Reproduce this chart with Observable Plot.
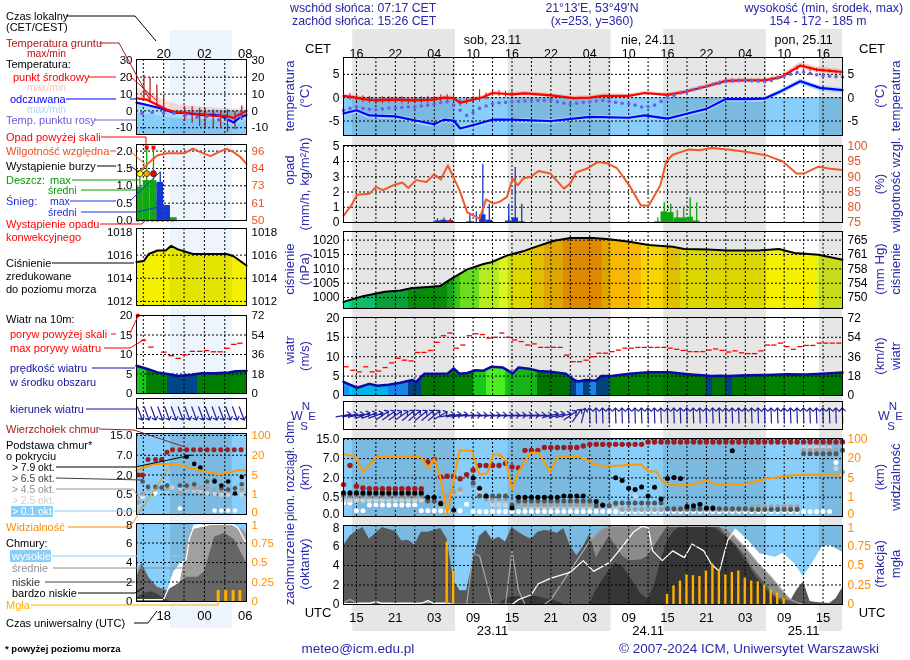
<!DOCTYPE html>
<html><head><meta charset="utf-8">
<script src="https://cdn.jsdelivr.net/npm/d3@7"></script>
<script src="https://cdn.jsdelivr.net/npm/@observablehq/plot@0.6"></script>
<style>
html,body{margin:0;padding:0;background:#fff;}
#root{position:relative;width:910px;height:660px;overflow:hidden;font-family:"Liberation Sans",Arial,sans-serif;}
#root svg{position:absolute;}
</style></head><body><div id="root"></div>
<script>
// ---------------- DATA (hours counted from 00 UTC 22.11) ----------------
const nightStart=[14.43,38.43,62.43,86.43];
const nightEnd=[30.28,54.28,78.28,90];
const gridHours=[15,18,21,24,27,30,33,36,39,42,45,48,51,54,57,60,63,66,69,72,75,78,81,84,87];
const labelHours=[15,21,27,33,39,45,51,57,63,69,75,81,87];
const cetLabels=["16","22","04","10","16","22","04","10","16","22","04","10","16"];
const utcLabels=["15","21","03","09","15","21","03","09","15","21","03","09","15"];
const noonHours=[36,60,84];
const dayTop=["sob, 23.11","nie, 24.11","pon, 25.11"];
const dayBottom=["23.11","24.11","25.11"];

const tempMid=[[13,0.4],[15,0],[16,-0.3],[18,-0.6],[21,-0.4],[23.5,-0.6],[27,-0.4],[28.5,0],[30,-0.1],[31,-1.1],[32.5,-0.6],[34.5,0.1],[36,1.0],[39,0.7],[41,0.9],[45,0.5],[48.5,-0.1],[51,0],[53,0.4],[57,0.4],[59.5,1.0],[63,0.6],[65.5,1.2],[69,2.4],[72,3.6],[74.5,3.7],[78,3.7],[80.5,4.4],[83.5,6.9],[86,6.0],[90,5.5]];
const tempBand=[[13,0,0.8],[15,-0.4,0.4],[18,-1,-0.2],[21,-0.8,0],[24,-1,-0.2],[27,-0.8,0],[28.5,-0.4,0.4],[30,-0.5,0.3],[31,-1.5,-0.7],[32.5,-1.0,-0.2],[34.5,-0.3,0.5],[36,0.6,1.4],[39,0.3,1.1],[41,0.5,1.3],[45,0.1,0.9],[48.5,-0.5,0.3],[51,-0.4,0.4],[53,0,0.8],[57,0,0.8],[59.5,0.6,1.4],[63,0.2,1.0],[65.5,0.8,1.6],[69,2,2.8],[72,3.2,4.0],[74.5,3.3,4.1],[78,3.3,4.1],[80.5,3.9,4.9],[83.5,6.2,7.6],[86,5.4,6.6],[90,5.0,6.0]];
const feelTemp=[[13,-3.4],[15,-2.7],[17,-3.8],[21,-4.0],[24.5,-5.0],[27,-5.7],[28.5,-4.7],[30,-4.9],[31,-6.6],[33.5,-5.7],[34.7,-5.2],[36,-4.7],[39,-4.7],[45,-5.0],[51,-4.1],[57,-4.3],[59.5,-3.8],[63,-4.5],[65.5,-3.6],[69,-2.4],[72,-0.3],[75,-0.3],[78,-0.2],[80.5,1.4],[83.5,3.5],[86.5,2.1],[90,1.6]];
const feelBand=[[13,-4.1,-3.1],[15,-3.4,-2.4],[17,-4.5,-3.5],[21,-4.7,-3.7],[24.5,-5.7,-4.7],[27,-6.4,-5.4],[28.5,-5.4,-4.4],[30,-5.6,-4.6],[31,-7.3,-6.3],[33.5,-6.4,-5.4],[34.7,-5.9,-4.9],[36,-5.4,-4.4],[39,-5.4,-4.4],[45,-5.7,-4.7],[51,-4.8,-3.8],[57,-5.0,-4.0],[59.5,-4.5,-3.5],[63,-5.2,-4.2],[65.5,-4.3,-3.3],[69,-3.1,-2.1],[72,-1.0,0.0],[75,-1.0,0.0],[78,-0.9,0.1],[80.5,0.7,1.7],[83.5,2.8,4.0],[86.5,1.4,2.5],[90,0.9,2.0]];
const dewPoint=[[13,-2.7],[14,-2.3],[15,-2.0],[16,-2.3],[17,-2.5],[18,-2.6],[19,-2.4],[20,-2.2],[21,-2.1],[22,-2.1],[23,-2.0],[24,-2.0],[25,-1.8],[26,-1.6],[27,-1.4],[28,-1.1],[29,-0.9],[30,-1.6],[31,-2.7],[32,-3.8],[33,-3.2],[34,-2.3],[35,-1.8],[36,-1.3],[37,-1.1],[38,-1.0],[39,-0.9],[40,-0.8],[41,-0.7],[42,-0.6],[43,-0.6],[44,-0.6],[45,-0.6],[46,-0.9],[47,-1.2],[48,-1.4],[49,-1.2],[50,-1.0],[51,-0.9],[52,-0.7],[53,-0.6],[54,-0.8],[55,-1.0],[56,-1.2],[57,-1.3],[58,-1.6],[59,-2.0],[60,-1.9],[61,-1.6],[62,-0.8],[63,0.1],[64,0.5],[65,1.0],[66,1.3],[67,1.7],[68,2.1],[69,2.4],[70,2.8],[71,3.1],[72,3.4],[73,3.5],[74,3.6],[75,3.7],[76,3.6],[77,3.5],[78,3.4],[79,3.7],[80,4.2],[81,4.6],[82,5.0],[83,5.4],[84,5.5],[85,5.2],[86,4.9],[87,4.7],[88,4.6],[89,4.5],[90,4.4]];
const groundTemp=[[13,-0.4,1.1],[14,-0.6,0.9],[15,-0.8,0.7],[16,-1.1,0.4],[17,-1.2,0.3],[18,-1.4,0.1],[19,-1.3,0.2],[20,-1.2,0.3],[21,-1.2,0.3],[22,-1.3,0.2],[23,-1.4,0.1],[24,-1.3,0.2],[25,-1.3,0.2],[26,-1.2,0.3],[27,-1.2,0.3],[28,-0.9,0.6],[29,-0.8,0.7],[30,-1.0,0.5],[31,-1.9,-0.4],[32,-1.5,0.0],[33,-1.2,0.3],[34,-0.9,1.7],[35,-0.5,1.0],[36,0.3,1.6],[37,0.2,1.5],[38,0.1,1.4],[39,0.0,1.3],[66,1.1,1.7],[67,1.4,2.0],[68,1.8,2.4],[69,2.1,2.7],[70,2.5,3.1],[71,2.9,3.5],[72,3.3,3.9],[73,3.4,4.0],[74,3.4,4.0],[75,3.4,4.0],[76,3.4,4.0],[77,3.4,4.0],[78,3.4,4.0],[79,3.6,4.3],[80,3.9,4.6],[81,4.4,5.2],[82,5.0,5.9],[83,5.8,6.8],[84,6.2,7.1],[85,5.6,6.5],[86,5.5,6.3],[87,5.4,6.1],[88,5.3,6.0],[89,5.1,5.8],[90,5.0,5.7]];

const humidity=[[13,77.2],[14.2,80.6],[15.1,84.1],[17,84.4],[18,86.7],[19.1,85.6],[20.9,87.4],[22.1,88.1],[23,86.3],[24.2,88.9],[25.8,88.3],[27,90.8],[28,89.1],[29.1,93.7],[30.3,88.3],[30.9,85.6],[32.1,78.3],[34,76.3],[35,82.6],[36.1,81.2],[37,81.7],[38.2,83.3],[39.1,89.4],[39.9,87.2],[40.7,89.4],[41.9,90.0],[43.1,91.9],[44.9,91.1],[47,86.1],[48,87.8],[48.9,91.4],[50.7,92.8],[52.2,94.8],[53.7,94.4],[55.2,92.8],[57.1,87.2],[58.9,80.6],[60.1,80.6],[61.9,87.2],[62.8,95.0],[63.8,97.2],[66.2,98.9],[68,98.7],[69.8,99.4],[72.3,98.9],[75.3,98.1],[78.3,97.0],[80.8,95.0],[82.9,91.1],[84.1,91.1],[86.3,93.3],[88.1,92.6],[90,92.2]];
const snowMean=[[27,0.1],[28,0.15],[29,0.1],[32,0.05],[34,0.5],[35,0.15],[38,0.1],[39,0.3],[40,0.05]];
const snowMax=[[27,0.25],[28,0.3],[29,0.25],[32,0.6],[33,0.7],[34,3.8],[35,1.2],[38,1.2],[39,3.6],[40,1.2]];
const rainMean=[[61,0.05],[62,0.7],[63,0.65],[64,0.3],[65,0.3],[66,0.35],[67,0.1]];
const rainMax=[[38,0.4],[61,0.3],[62,1.3],[63,1.2],[64,0.8],[65,1.0],[66,1.6],[67,1.3]];
const convective=[29];

const pressure=[[13,998.5],[16,1000.5],[19.4,1002],[21.8,1002.5],[23.6,1003.3],[26.1,1003.7],[27.9,1004],[29.7,1006.6],[32.1,1009.8],[34.6,1011.7],[35.8,1012.3],[38.2,1014.6],[40.7,1016.1],[43.1,1018],[45.5,1019.8],[48,1020.7],[51.6,1020.7],[54,1020.3],[57.1,1019.4],[60.1,1018.3],[63.8,1017.7],[65.6,1016.9],[69.2,1016.7],[72.3,1016.4],[77.1,1016.4],[80.2,1016.9],[82.6,1015.5],[86.3,1014.9],[90,1013.2]];

const windSpeed=[[13,3.5],[15.1,2.0],[17,3.0],[18.2,2.5],[20,2.8],[21.8,3.3],[23.6,4.0],[24.2,3.5],[25.5,5.6],[29.1,5.7],[30,7.0],[30.9,5.6],[32.1,5.8],[33.4,6.5],[34.6,6.4],[35.8,7.4],[37.6,7.2],[39.1,5.7],[40,7.2],[41.9,6.8],[43.1,6.3],[44.9,6.1],[47.3,5.6],[48.6,4.0],[49.2,3.6],[50.4,4.0],[51.9,3.8],[52.8,5.0],[54.6,5.1],[57.1,5.6],[60.1,6.0],[63.2,6.0],[66.2,5.5],[69.8,5.0],[71.1,5.1],[72.3,5.0],[75.3,5.2],[78.3,5.3],[81.4,5.5],[84.4,5.4],[87.5,5.7],[90,5.9]];
const gustFirstHour=13;
const gustVals=[7.4,6.5,6.1,7.4,6.1,6.3,7.2,8.4,9.6,9.1,8.9,11.1,11.1,11.6,13.7,15.4,16.1,12.2,13.0,15.4,15.9,15.7,14.8,15.0,16.1,15.0,14.3,13.9,13.0,13.3,12.4,12.4,12.4,12.4,10.4,8.7,8.7,9.1,10.0,10.9,10.9,11.3,11.7,12.2,12.2,12.4,12.4,12.4,12.4,12.4,12.2,11.9,11.6,11.3,11.3,11.3,11.7,12.0,11.6,11.2,11.5,11.0,10.8,10.8,11.5,13.0,13.0,13.5,12.6,11.9,12.6,12.9,12.9,13.5,13.5,13.5,13.5];
// wind "from" direction, runs of hours [first, last, degrees]
const windDirRuns=[[13,15,260],[16,18,250],[19,22,235],[23,27,230],[28,28,240],[29,31,260],[32,44,265],[45,47,255],[48,48,235],[49,49,215],[50,50,195],[51,90,178]];

// cloud base / top (km a.s.l.), runs [first hour, last hour, km]
const cbTicks=[0,0.5,2,7,15];
const visTicks=[0,1,5,20,100];
const cbTopRuns=[[13,13,1.48],[14,14,5.2],[15,15,1.35],[16,16,1.22],[17,25,1.16],[26,26,6.1],[27,27,6.8],[28,28,2.25],[29,30,2.45],[31,31,1.93],[32,32,2.85],[33,33,4.0],[34,37,5.2],[38,38,5.75],[39,39,4.85],[40,40,4.6],[41,43,10.4],[44,49,11.6],[50,50,12.2],[51,59,12.9],[60,90,13.9]];
const cbBlackRuns=[[13,25,0.85],[26,27,0.5],[28,28,0.33],[30,30,0.16],[33,33,2.0],[34,34,1.2],[35,35,0.6],[39,39,0.22],[40,46,0.5],[47,50,0.6],[52,52,0.39],[53,53,0.3],[55,55,2.05],[56,56,1.8],[57,57,1.2],[58,58,1.1],[59,59,1.3],[60,60,0.6],[61,61,1.27],[62,62,0.45],[63,63,1.95],[64,64,2.1],[65,65,1.95],[66,66,0.26],[67,67,0.28],[68,68,0.32],[69,70,0.22],[73,73,10.2]];
const cbDarkRuns=[[13,25,0.72],[26,27,0.4],[28,28,0.35],[33,33,1.6],[34,38,0.6],[39,39,0.3],[40,51,0.4],[52,54,0.28],[55,62,0.35],[63,75,0.2],[76,83,0.18],[84,89,9.0],[90,90,10.5]];
const cbGreyRuns=[[13,25,0.55],[29,29,0.6],[30,30,0.9],[31,31,1.1],[33,33,1.4],[35,38,0.45],[40,40,0.35],[41,55,0.3],[56,75,0.18],[76,83,0.25],[84,89,10.5],[90,90,3.5]];
const cbLightRuns=[[13,25,0.42],[30,30,0.8],[31,31,0.9],[34,34,1.0],[36,39,0.3],[41,55,0.25],[58,58,0.6],[76,83,0.22],[84,88,11.5],[89,89,4.5]];
const cbWhiteRuns=[[13,14,0.35],[15,16,0.15],[17,24,0.3],[25,31,0.15],[32,32,0.32],[33,88,0.13],[89,89,6.0],[90,90,3.3]];
const visibility=[[13,37.6],[14.8,30],[16,9.5],[18.2,30],[20.6,28],[24.9,28],[26.1,12.8],[27,19.8],[27.9,6.8],[29,0.14],[30.9,55],[32.8,51],[34,7.6],[35.2,8.5],[36.1,37],[37,37],[38,19],[39,2.56],[40,10.2],[41.9,44],[43.1,44],[44.9,9.7],[46.1,30],[49.2,28],[50.7,19],[51.6,15.5],[54,14],[58.9,15.5],[60.1,10],[61.3,10],[62.2,4.3],[63.2,3.6],[65,3.4],[66.8,3.6],[68.9,4.5],[70.1,3.8],[72.9,3.6],[74.7,3.6],[76.5,4.3],[78.3,4.8],[82,6.8],[84.4,7.6],[90,6.8]];

// cloud cover (oktas)
const coverLow=[[13,6.0],[14,7.0],[15,7.5],[16,7.9],[17,6.7],[18,7.3],[19,7.9],[20,7.7],[21,7.5],[22,6.5],[23,6.6],[24,6.1],[25,7.4],[26,7.4],[27,7.6],[28,7.8],[29,6.7],[30,2.4],[31,1.4],[32,1.4],[33,4.5],[34,7.0],[35,7.6],[36,6.6],[37,6.9],[38,6.4],[39,7.9],[40,7.4],[41,7.0],[42,6.7],[43,7.4],[44,7.6],[45,7.5],[46,7.3],[47,7.8],[48,6.0],[49,5.0],[50,5.9],[51,7.2],[52,4.8],[53,5.9],[54,7.0],[55,6.0],[56,5.0],[57,4.5],[58,4.5],[59,4.6],[60,5.0],[61,6.0],[62,7.0],[63,8],[64,8],[65,8],[66,8],[67,8],[68,8],[69,8],[70,8],[71,8],[72,7.1],[73,6.5],[74,5.8],[75,5.0],[76,3.8],[77,3.0],[78,2.2],[79,1.3],[80,0.7],[81,0.5],[82,0.35],[83,1.5],[84,2.3],[85,0.3],[86,0.2],[87,0.15],[88,0.1],[89,0.6],[90,1.7]];
const coverVeryLow=[[13,0],[37,0],[38,0.6],[39,0.8],[40,0.8],[41,0.7],[42,0.9],[43,0.8],[44,0.6],[45,0.5],[46,0.3],[47,0],[51,0],[52,1.5],[53,2.5],[54,3.5],[55,4.2],[56,4.0],[57,3.0],[58,2.0],[59,1.0],[60,0.5],[61,2.0],[62,4.5],[63,6.5],[64,7.5],[65,8],[66,8],[67,8],[68,8],[69,8],[70,8],[71,7.5],[72,7.0],[73,6.3],[74,5.5],[75,4.5],[76,3.5],[77,2.5],[78,1.8],[79,1.0],[80,0.5],[81,0.2],[82,0],[90,0]];
const coverMid=[[13,0.2],[14,0.5],[15,0.2],[29,0.2],[30,0],[32,0],[33,5.2],[34,5.0],[35,2.5],[36,0],[38,0],[39,5.5],[40,1.5],[41,0],[44,0],[45,0.5],[46,1.5],[47,2.5],[48,3.5],[49,4.5],[50,5.5],[51,6.5],[52,7.2],[53,7.8],[54,8],[71,8],[72,7.8],[73,7.2],[74,6.5],[75,5.8],[76,5.0],[77,4.2],[78,3.5],[79,2.8],[80,2.0],[81,1.2],[82,0.5],[83,0.2],[84,0],[90,0]];
const coverHigh=[[13,0.1],[17,0.1],[18,0.3],[19,0.1],[25,0.1],[26,0.4],[27,0.1],[29,0.1],[30,0],[39,0],[40,0.5],[42,1.0],[43,2.1],[45,2.7],[48,3.3],[50,4.5],[51.6,3.4],[54,4.3],[56,5.9],[57.7,7.4],[59,8],[60,7.9],[60.7,5.5],[62.2,4.5],[63.8,5.5],[65.6,4.8],[66.8,6.2],[68.6,5.5],[69.8,4.1],[71,3.4],[72.3,6.6],[73.5,7.7],[75.3,6.6],[77.1,5.2],[79.6,4.8],[80.8,5.2],[82.6,4.1],[83.8,2.8],[85,3.8],[86.9,5.9],[88.1,6.0],[90,5.3]];
const fog=[[29,0.8],[30,0.43],[63,0.13],[64,0.24],[65,0.3],[66,0.38],[67,0.37],[68,0.36],[69,0.43],[70,0.52],[71,0.45],[72,0.38],[73,0.41],[74,0.43],[75,0.34],[76,0.3],[77,0.29],[78,0.25],[79,0.19],[80,0.15],[81,0.08]];

// ---- legend (mini) sample meteogram, hours UTC from 00 of the sample day ----
const miniTemp=[[14,7.5],[15.6,6.5],[17.1,3.5],[18.6,0.6],[19.5,-0.4],[21.5,-1.4],[23.4,-2],[25.4,-2.9],[27.3,-2.9],[28.3,-4.3],[29,-2.4],[30.2,0]];
const miniTempTop=[[14,13.9],[15.6,11.4],[17.1,8.4],[18.6,5.5],[20.1,3.5],[23.4,2.5],[28.3,1],[30.2,2.5]];
const miniFeel=[[14,4.9],[15.6,3.5],[17.5,1.6],[19.5,-1],[21.5,-1.4],[23.4,-2.4],[25.4,-2.4],[26.4,-2.9],[28.3,-6.9],[29.2,-3.9],[30.2,-2.4]];
const miniFeelLow=[[14,-1.5],[16,-2.5],[18,-3.5],[20,-4.5],[23,-5],[26,-5.5],[28.3,-9],[30.2,-5.5]];
const miniDew=[[14.8,-1.4],[16.3,-1.0],[18,-1.4],[19.5,-1.4],[21.2,-2.4],[22.9,-3.7],[24.4,-3.3],[26.1,-5.3],[27.3,-4.9],[29.3,-3.3]];
const miniGround=[[15.1,6.5,21.2],[16,5.5,19.6],[17,1.6,15.3],[18,0.6,9.4],[21.1,-6.3,2.5],[22.2,-7.3,2.5],[23.3,-9.2,1.6],[24.1,-10.2,1.6],[25.3,-10.2,0.6],[26.4,-10.8,-0.4],[27.4,-12.7,0.6],[28.5,-11.2,-0.4],[29.5,-5.7,2.9]];
const miniHum=[[14,81],[14.9,84.3],[15.6,87.5],[17.1,93.2],[18.6,94.6],[21.1,94.6],[22.3,97.6],[23.4,95.3],[24.9,92.7],[26.4,96],[27.3,97.4],[28.3,95.3],[29.3,92.1],[30.2,87.5]];
const miniRainMean=[[14,0.96],[15,1.15],[16,1.15],[17,0.6],[18,0.08],[19,0.08]];
const miniSnowMean=[[17,1.1],[18,0.43]];
const miniRainMax=[[14.5,1.35],[15.5,2.1],[16.5,2.1]];
const miniSnowMax=[[17.5,1.4]];
const miniStorm=[[14.5,1],[15.5,2],[16.5,3]];
const miniOverScale=[15.5,16.5];
const miniConvective=[14,20];
const miniPressure=[[14,1015.4],[15.1,1015.5],[15.8,1016.1],[17.1,1016.4],[18.3,1016.4],[19.1,1016.8],[20.1,1016.5],[22.3,1016.1],[27.3,1016.1],[28.3,1015.9],[30.2,1015.1]];
const miniWind=[[14,7.1],[15.6,6.3],[17.1,5.4],[18.6,5.0],[20.1,4.5],[22.1,4.8],[23.6,5.2],[25.6,5.2],[27.6,5.4],[28.6,5.7],[30.2,5.8]];
const miniGust=[[15.1,13.6],[16.2,11.9],[18.1,10.6],[19.2,9.7],[20.2,9.0],[21.2,9.9],[22.3,10.8],[23.4,10.8],[24.4,11.0],[25.4,10.7],[26.4,10.7],[27.4,11.6],[28.4,12.6],[29.3,12.9]];
const miniGustOver=[[14.2,20]];
const miniDirRuns=[[14.5,29.5,340]];
const miniTopRuns=[[14.3,14.3,2.0],[14.9,14.9,2.0],[15.7,15.7,5.9],[16.8,16.8,5.9],[17.7,17.7,5.9],[18.5,18.5,8.2],[19.3,19.3,9.2],[20.4,29.4,9.2]];
const miniBlack=[[21.4,6.6],[22.5,4.8],[23.4,3.9],[25.5,1.5],[26.5,1.2],[27.5,1.5],[28.5,0.6],[29.5,1.85]];
const miniDark=[[14.9,1.5],[15.7,1.1],[16.8,1.1],[17.7,1.05],[18.5,1.2],[20.4,1.2],[21.4,1.2],[22.5,1.3],[23.4,3.7],[24.4,1.5],[25.5,1.6],[26.5,1.0],[27.5,0.9],[28.5,1.0],[29.5,1.3]];
const miniGrey=[[14.3,0.3],[14.9,0.6],[15.7,1.0],[16.8,1.0],[17.7,1.0],[18.5,1.0],[20.4,0.6],[21.4,1.0],[22.5,1.0],[23.4,1.0],[24.4,1.0],[25.5,0.9],[26.5,0.8],[27.5,0.8],[28.5,0.7],[29.5,0.9]];
const miniLight=[[14.3,0.25],[14.9,0.5],[18.5,1.0],[19.3,1.05],[20.4,1.0],[21.4,0.9],[22.5,0.85],[23.4,0.8],[24.4,0.6],[25.5,0.55],[26.5,0.5],[27.5,0.5],[28.5,0.55],[29.5,0.5]];
const miniWhite=[[14.9,0.45],[16.8,0.6],[20.4,0.15],[25.5,0.1],[26.5,0.1],[27.5,0.1],[28.5,0.1]];
const miniVis=[[14,8.2],[15.1,10.7],[16.6,13.3],[19.1,13.3],[20.8,12],[22.5,9.5],[24.7,7],[26.1,5.6],[27.8,7],[29,8.7],[30.2,8.2]];
const miniCoverVeryLow=[[14,0.3],[15,0.8],[16,1.0],[17,0.8],[18,0.3],[19,0],[30.2,0]];
const miniCoverLow=[[14,2.5],[14.8,3.9],[15.8,2.5],[17,1.5],[18.5,1.1],[20,1.75],[21.4,2.5],[23,2.5],[24,3.0],[25.5,6.6],[27,7.0],[28.5,6.3],[30.2,3.9]];
const miniCoverMid=[[14,0],[19.5,0],[20.5,2.2],[21.5,6.0],[22,7.3],[23,7.5],[25,7.8],[28,7.8],[29.5,7.5],[30.2,7.0]];
const miniCoverHigh=[[14,0.2],[18,0.2],[18.8,1.5],[19.5,3.0],[20.5,3.9],[21.3,4.3],[21.8,6.5],[22.5,7.8],[24,7.9],[28,8],[29,7.5],[30.2,5.9]];
const miniFog=[[26.1,0.14],[27.2,0.14],[28.3,0.14],[29.3,0.14]];
const miniGridHours=[15,18,21,24,27];
const miniTopHours=[18,24,30], miniTopLabels=["20","02","08"], miniBottomLabels=["18","00","06"];
const miniHighlight=[19,28.1];

// ---------------- HELPERS ----------------
const FONT='"Liberation Sans", Arial, sans-serif';
const NAVY="#2828a8";
const root=document.getElementById("root");
const MX0=343,MX1=842,H0=13,H1=90;
const SX0=136,SX1=246,S0=14,S1=30.2;
const ML=44,MR=44,MT=8,MB=8;
const STYLE={background:"transparent",fontFamily:FONT,fontSize:"12px",overflow:"visible",color:"#000"};
const dash={stroke:"#000",strokeDasharray:"2,2",strokeWidth:1};
const runs=r=>{const o=[];for(const [a,b,v] of r)for(let h=a;h<=b+1e-9;h++)o.push([h,v]);return o;};
const toU=(v,t)=>{for(let i=0;i<t.length-1;i++)if(v<=t[i+1])return i+(v-t[i])/(t[i+1]-t[i]);return t.length-1;};
function interp(s,h){for(let i=0;i<s.length-1;i++){const [a,va]=s[i],[b,vb]=s[i+1];if(h>=a&&h<=b)return va+(vb-va)*(h-a)/(b-a);}return h<s[0][0]?s[0][1]:s[s.length-1][1];}
const pressColor=d3.scaleThreshold().domain([999.5,1001.5,1003,1005,1007,1009,1011,1013,1015,1017.2,1018.6,1020.4]).range(["#10eaa0","#10d070","#10b040","#0a9a0a","#20b420","#34c81c","#6cdc20","#b4ec20","#dcf420","#f4f000","#f8d400","#f8b800","#f89800"]);
const windColor=d3.scaleThreshold().domain([2.9,3.9,5.05,6.3,7.1]).range(["#00c8ff","#1e90ff","#004a8c","#008200","#18c818","#48f020"]);
const X=d=>d[0],Y=d=>d[1];
const S=d=>String(d);

function panel({top,bottom,ydom,marks,mini=false}){
  const x0=mini?SX0:MX0,x1=mini?SX1:MX1;
  const p=Plot.plot({width:x1-x0+ML+MR,height:bottom-top+MT+MB,marginLeft:ML,marginRight:MR,marginTop:MT,marginBottom:MB,
    x:{domain:mini?[S0,S1]:[H0,H1],axis:null},y:{domain:ydom,axis:null},style:STYLE,marks});
  p.style.left=(x0-ML)+"px";p.style.top=(top-MT)+"px";root.appendChild(p);return p;
}
function strip({top,height,marks,mini=false}){
  const x0=mini?SX0:MX0,x1=mini?SX1:MX1;
  const p=Plot.plot({width:x1-x0+ML+MR,height,marginLeft:ML,marginRight:MR,marginTop:0,marginBottom:0,
    x:{domain:mini?[S0,S1]:[H0,H1],axis:null},style:STYLE,marks});
  p.style.left=(x0-ML)+"px";p.style.top=top+"px";root.appendChild(p);return p;
}
// axis with optional nudged edge tick (so stacked panels' edge labels do not collide)
function ax(anchor,ticks,fmt,color="#000",fs=12,edge=null,edgeDy=0){
  const base={tickFormat:fmt,anchor,tickSize:0,tickPadding:anchor==="left"?4:5,color,fontSize:fs};
  if(edge===null) return Plot.axisY({...base,ticks});
  return [Plot.axisY({...base,ticks:ticks.filter(t=>t!==edge)}),Plot.axisY({...base,ticks:[edge],dy:edgeDy})];
}
const nights=()=>Plot.rect(nightStart.map((s,i)=>({s,e:nightEnd[i]})),{x1:"s",x2:"e",fill:"#e6e6e6"});
const highlight=()=>Plot.rect([miniHighlight],{x1:d=>d[0],x2:d=>d[1],fill:"#eef4fc"});
const frame=()=>Plot.frame({stroke:"#000",strokeWidth:1});
function addGradient(svg,id,series,colorFn,hs){
  const sx=svg.scale("x");const ns="http://www.w3.org/2000/svg";
  const defs=document.createElementNS(ns,"defs");const lg=document.createElementNS(ns,"linearGradient");
  const xa=sx.apply(hs[0]),xb=sx.apply(hs[hs.length-1]);
  lg.setAttribute("id",id);lg.setAttribute("gradientUnits","userSpaceOnUse");
  lg.setAttribute("x1",xa);lg.setAttribute("x2",xb);lg.setAttribute("y1",0);lg.setAttribute("y2",0);
  for(let i=0;i<hs.length-1;i++){const c=colorFn(interp(series,(hs[i]+hs[i+1])/2));
    for(const h of [hs[i],hs[i+1]]){const st=document.createElementNS(ns,"stop");st.setAttribute("offset",(sx.apply(h)-xa)/(xb-xa));st.setAttribute("stop-color",c);lg.appendChild(st);}}
  defs.appendChild(lg);svg.insertBefore(defs,svg.firstChild);
}
const mainHours=d3.range(H0,H1+0.001,1);
const miniHours=d3.range(S0,S1,0.5).concat([S1]);

// ---------------- BACKGROUND BANDS ----------------
strip({top:29,height:602,marks:[nights()]});
strip({top:30,height:598,mini:true,marks:[highlight()]});

// ---------------- MAIN PANELS ----------------
const TMIN=-8.1,TMAX=8.6;
panel({top:57,bottom:135,ydom:[TMIN,TMAX],marks:[
  nights(),
  Plot.rect([0],{x1:H0,x2:H1,y1:TMIN,y2:0,fill:"#87cefa",mixBlendMode:"multiply"}),
  Plot.areaY(tempBand,{x:X,y1:d=>d[1],y2:d=>d[2],fill:"#fcd0c4",mixBlendMode:"multiply"}),
  Plot.areaY(feelBand,{x:X,y1:d=>d[1],y2:d=>d[2],fill:"#a6dbfa"}),
  Plot.ruleY([5,0,-5],dash),Plot.ruleX(gridHours,dash),
  Plot.ruleX(groundTemp,{x:X,y1:d=>d[1],y2:d=>d[2],stroke:"#b01818",strokeWidth:1}),
  Plot.line(feelTemp,{x:X,y:Y,stroke:"#0000ff",strokeWidth:2.2}),
  Plot.line(tempMid,{x:X,y:Y,stroke:"#ff0000",strokeWidth:2.2}),
  Plot.dot(dewPoint,{x:X,y:Y,r:1.8,fill:"#7060e0"}),
  frame(),ax("left",[5,0,-5],S),ax("right",[5,0,-5],S)
]});

const PMAX=5.05;
panel({top:145,bottom:222,ydom:[0,PMAX],marks:[
  nights(),
  Plot.ruleY([1,2,3,4,5],dash),Plot.ruleX(gridHours,dash),
  Plot.rect(rainMean,{x1:X,x2:d=>d[0]+1,y1:0,y2:Y,fill:"#10a810"}),
  Plot.ruleX(rainMax,{x:d=>d[0]+0.5,y1:0,y2:Y,stroke:"#10a810",strokeWidth:1.3}),
  Plot.rect(snowMean,{x1:X,x2:d=>d[0]+1,y1:0,y2:Y,fill:"#1438d0"}),
  Plot.ruleX(snowMax,{x:d=>d[0]+0.5,y1:0,y2:Y,stroke:"#1438d0",strokeWidth:1.3}),
  Plot.rect(convective,{x1:d=>d+0.1,x2:d=>d+0.9,y1:0,y2:0.12,fill:"#ff0000"}),
  Plot.line(humidity,{x:X,y:d=>(d[1]-75)/5,stroke:"#f05a28",strokeWidth:2}),
  frame(),ax("left",[0,1,2,3,4,5],S),ax("right",[0,1,2,3,4,5],d=>S(75+5*d),"#e85020")
]});

const pr=panel({top:231,bottom:308,ydom:[996.2,1023],marks:[
  nights(),
  Plot.areaY(pressure,{x:X,y1:996.2,y2:Y,fill:"url(#pgrad)",mixBlendMode:"multiply"}),
  Plot.ruleY([1000,1005,1010,1015,1020],dash),Plot.ruleX(gridHours,dash),
  Plot.line(pressure,{x:X,y:Y,stroke:"#000",strokeWidth:2}),
  frame(),ax("left",[1000,1005,1010,1015,1020],S),ax("right",[1000,1005,1010,1015,1020],d=>S(Math.round(d/1.33322)))
]});
addGradient(pr,"pgrad",pressure,pressColor,mainHours);

const wp=panel({top:317,bottom:395,ydom:[0,20.1],marks:[
  nights(),
  Plot.areaY(windSpeed,{x:X,y:Y,fill:"url(#wgrad)",mixBlendMode:"multiply"}),
  Plot.ruleY([5,10,15],dash),Plot.ruleX(gridHours,dash),
  Plot.line(windSpeed,{x:X,y:Y,stroke:"#0a0aa0",strokeWidth:2.5}),
  Plot.ruleY(gustVals.map((v,i)=>[gustFirstHour+i,v]),{y:Y,x1:d=>d[0]+0.1,x2:d=>d[0]+0.9,stroke:"#ff0000",strokeWidth:1.3}),
  frame(),ax("left",[0,5,10,15,20],S),ax("right",[0,5,10,15,20],d=>S(Math.round(d*3.6)))
]});
addGradient(wp,"wgrad",windSpeed,windColor,mainHours);

panel({top:401,bottom:429,ydom:[-1,1],marks:[
  nights(),Plot.ruleX(gridHours,dash),
  Plot.vector(runs(windDirRuns),{x:X,y:0,rotate:d=>(d[1]+180)%360,length:15,stroke:"#2020a0",strokeWidth:1.2,anchor:"middle"}),
  frame()
]});

const UMAX=4.04;
const cbDots=(r,fill,rad=2.5)=>Plot.dot(runs(r),{x:X,y:d=>toU(d[1],cbTicks),r:rad,fill});
panel({top:438,bottom:516,ydom:[0,UMAX],marks:[
  nights(),
  Plot.rect([0],{x1:H0,x2:H1,y1:0,y2:UMAX,fill:"#87cefa",mixBlendMode:"multiply"}),
  Plot.ruleY([1,2,3,4],dash),Plot.ruleX(gridHours,dash),
  cbDots(cbWhiteRuns,"#ffffff"),cbDots(cbLightRuns,"#d0d0d0"),cbDots(cbGreyRuns,"#a0a0a0"),
  cbDots(cbDarkRuns,"#555555"),cbDots(cbBlackRuns,"#000000"),cbDots(cbTopRuns,"#a01c1c",2.7),
  Plot.line(visibility,{x:X,y:d=>toU(d[1],visTicks),stroke:"#ff9900",strokeWidth:2}),
  frame(),ax("left",[0,1,2,3,4],d=>cbTicks[d].toFixed(1),"#000",12,0,-2),ax("right",[0,1,2,3,4],d=>S(visTicks[d]),"#ff8c00",12,0,-2)
]});

panel({top:525,bottom:604,ydom:[0,8.1],marks:[
  nights(),
  Plot.rect([0],{x1:H0,x2:H1,y1:0,y2:8.1,fill:"#87cefa",mixBlendMode:"multiply"}),
  Plot.areaY(coverHigh,{x:X,y:Y,fill:"#ffffff"}),
  Plot.areaY(coverMid,{x:X,y:Y,fill:"#8c8c8c"}),
  Plot.areaY(coverLow,{x:X,y:Y,fill:"#585858"}),
  Plot.areaY(coverVeryLow,{x:X,y:Y,fill:"#363636"}),
  Plot.line(coverMid,{x:X,y:Y,stroke:"#a8a8a8",strokeWidth:1.2}),
  Plot.line(coverHigh,{x:X,y:Y,stroke:"#ffffff",strokeWidth:1.3}),
  Plot.ruleY([2,4,6],dash),Plot.ruleX(gridHours,dash),
  Plot.rect(fog,{x1:d=>d[0]-0.18,x2:d=>d[0]+0.18,y1:0,y2:d=>d[1]*8,fill:"#ffb000"}),
  frame(),ax("left",[0,2,4,6,8],S,"#000",12,8,2),ax("right",[0,2,4,6,8],d=>S(d/8),"#ff8c00",12,8,2)
]});

// time labels
strip({top:29,height:28,marks:[
  Plot.text(noonHours.map((h,i)=>({h,t:dayTop[i]})),{x:"h",text:"t",frameAnchor:"top",dy:6,fontSize:12.5}),
  Plot.text(labelHours.map((h,i)=>({h,t:cetLabels[i]})),{x:"h",text:"t",frameAnchor:"top",dy:20,fontSize:12.5})
]});
strip({top:604,height:30,marks:[
  Plot.text(labelHours.map((h,i)=>({h,t:utcLabels[i]})),{x:"h",text:"t",frameAnchor:"top",dy:8,fontSize:13}),
  Plot.text(noonHours.map((h,i)=>({h,t:dayBottom[i]})),{x:"h",text:"t",frameAnchor:"top",dy:21,fontSize:13})
]});

// ---------------- MINI (LEGEND) PANELS ----------------
const MF=11.5;
panel({mini:true,top:59,bottom:134,ydom:[-14,30.5],marks:[
  highlight(),
  Plot.rect([0],{x1:S0,x2:S1,y1:-14,y2:0,fill:"#87cefa",mixBlendMode:"multiply"}),
  Plot.areaY(miniFeelLow.map(d=>[d[0],d[1],interp(miniFeel,d[0])]),{x:X,y1:d=>d[1],y2:d=>d[2],fill:"#a6dbfa"}),
  Plot.areaY(miniTempTop.map(d=>[d[0],interp(miniTemp,d[0]),d[1]]),{x:X,y1:d=>d[1],y2:d=>d[2],fill:"#fde0d6",mixBlendMode:"multiply"}),
  Plot.ruleY([20,10,0,-10],dash),Plot.ruleX(miniGridHours,dash),
  Plot.ruleX(miniGround,{x:X,y1:d=>d[1],y2:d=>d[2],stroke:"#b01818",strokeWidth:1.2}),
  Plot.line(miniFeel,{x:X,y:Y,stroke:"#0000ff",strokeWidth:2.2}),
  Plot.line(miniTemp,{x:X,y:Y,stroke:"#ff0000",strokeWidth:2.2}),
  Plot.dot(miniDew,{x:X,y:Y,r:1.8,fill:"#7060e0"}),
  frame(),ax("left",[30,20,10,0,-10],S,"#000",MF),ax("right",[30,20,10,0,-10],S,"#000",MF)
]});
panel({mini:true,top:144,bottom:220,ydom:[0,2.19],marks:[
  highlight(),
  Plot.ruleY([0.5,1,1.5,2],dash),Plot.ruleX(miniGridHours,dash),
  Plot.rect(miniRainMean,{x1:X,x2:d=>d[0]+1,y1:0,y2:Y,fill:"#10a810"}),
  Plot.rect(miniSnowMean,{x1:X,x2:d=>d[0]+1,y1:0,y2:Y,fill:"#1438d0"}),
  Plot.ruleX(miniRainMax,{x:X,y1:0,y2:Y,stroke:"#10a810",strokeWidth:1.3}),
  Plot.ruleX(miniSnowMax,{x:X,y1:0,y2:Y,stroke:"#1438d0",strokeWidth:1.3}),
  Plot.ruleY([0],{x1:miniConvective[0],x2:miniConvective[1],stroke:"#ff0000",strokeWidth:2,strokeDasharray:"3,2"}),
  Plot.line(miniHum,{x:X,y:d=>(d[1]-50)/23,stroke:"#f05a28",strokeWidth:2}),
  Plot.dot(miniStorm,{x:X,y:1.35,r:3,fill:d=>["#ffff00","#ffa000","#ff0000"][d[1]-1],stroke:"#000",strokeWidth:0.6}),
  Plot.dot(miniOverScale,{x:d=>d,y:2.1,r:2.2,symbol:"square",fill:"#ff0000"}),
  frame(),ax("left",[0,0.5,1,1.5,2],d=>d.toFixed(1),"#000",MF),ax("right",[0,0.5,1,1.5,2],d=>S(Math.floor(50+23*d)),"#e85020",MF)
]});
const mpr=panel({mini:true,top:228,bottom:305,ydom:[1011.65,1018.3],marks:[
  highlight(),
  Plot.areaY(miniPressure,{x:X,y1:1011.65,y2:Y,fill:"url(#mpgrad)",mixBlendMode:"multiply"}),
  Plot.ruleY([1012,1014,1016],dash),Plot.ruleX(miniGridHours,dash),
  Plot.line(miniPressure,{x:X,y:Y,stroke:"#000",strokeWidth:2}),
  frame(),ax("left",[1012,1014,1016,1018],S,"#000",MF),ax("right",[1012,1014,1016,1018],S,"#000",MF)
]});
addGradient(mpr,"mpgrad",miniPressure,pressColor,miniHours);
const mwp=panel({mini:true,top:315,bottom:393,ydom:[0,20],marks:[
  highlight(),
  Plot.areaY(miniWind,{x:X,y:Y,fill:"url(#mwgrad)",mixBlendMode:"multiply"}),
  Plot.ruleY([5,10,15],dash),Plot.ruleX(miniGridHours,dash),
  Plot.line(miniWind,{x:X,y:Y,stroke:"#0a0aa0",strokeWidth:2.5}),
  Plot.ruleY(miniGust,{y:Y,x1:d=>d[0]-0.4,x2:d=>d[0]+0.4,stroke:"#ff0000",strokeWidth:1.3}),
  Plot.dot(miniGustOver,{x:X,y:Y,r:2,fill:"#ff0000"}),
  frame(),ax("left",[0,5,10,15,20],S,"#000",MF),ax("right",[0,5,10,15,20],d=>S(Math.round(d*3.6)),"#000",MF)
]});
addGradient(mwp,"mwgrad",miniWind,windColor,miniHours);
panel({mini:true,top:398,bottom:428,ydom:[-1,1],marks:[
  highlight(),Plot.ruleX(miniGridHours,dash),
  Plot.vector(runs(miniDirRuns),{x:X,y:0,rotate:d=>(d[1]+180)%360,length:14,stroke:"#2020a0",strokeWidth:1.2,anchor:"middle"}),
  frame()
]});
const mDots=(data,fill,rad=2.3)=>Plot.dot(data,{x:X,y:d=>toU(d[1],cbTicks),r:rad,fill});
panel({mini:true,top:433,bottom:514,ydom:[0,4.1],marks:[
  Plot.rect([0],{x1:S0,x2:S1,y1:0,y2:4.1,fill:"#87cefa"}),
  Plot.rect([miniHighlight],{x1:d=>d[0],x2:d=>d[1],y1:0,y2:4.1,fill:"#e6e6e6",mixBlendMode:"multiply"}),
  Plot.ruleY([1,2,3,4],dash),Plot.ruleX(miniGridHours,dash),
  mDots(miniWhite,"#ffffff"),mDots(miniLight,"#d0d0d0"),mDots(miniGrey,"#a0a0a0"),mDots(miniDark,"#555555"),mDots(miniBlack,"#000000"),
  mDots(runs(miniTopRuns),"#a01c1c",2.5),
  Plot.line(miniVis,{x:X,y:d=>toU(d[1],visTicks),stroke:"#ff9900",strokeWidth:2}),
  frame(),ax("left",[0,1,2,3,4],d=>cbTicks[d].toFixed(1),"#000",MF,0,-2),ax("right",[0,1,2,3,4],d=>S(visTicks[d]),"#ff8c00",MF,0,-2)
]});
panel({mini:true,top:523,bottom:601,ydom:[0,8],marks:[
  Plot.rect([0],{x1:S0,x2:S1,y1:0,y2:8,fill:"#87cefa"}),
  Plot.rect([miniHighlight],{x1:d=>d[0],x2:d=>d[1],y1:0,y2:8,fill:"#e6e6e6",mixBlendMode:"multiply"}),
  Plot.areaY(miniCoverHigh,{x:X,y:Y,fill:"#ffffff"}),
  Plot.areaY(miniCoverMid,{x:X,y:Y,fill:"#a0a0a0"}),
  Plot.areaY(miniCoverLow,{x:X,y:Y,fill:"#666666"}),
  Plot.areaY(miniCoverVeryLow,{x:X,y:Y,fill:"#404040"}),
  Plot.line(miniCoverHigh,{x:X,y:Y,stroke:"#ffffff",strokeWidth:1.3}),
  Plot.ruleY([2,4,6],dash),Plot.ruleX(miniGridHours,dash),
  Plot.rect(miniFog,{x1:d=>d[0]-0.22,x2:d=>d[0]+0.22,y1:0,y2:d=>d[1]*8,fill:"#ffb000"}),
  frame(),ax("left",[0,2,4,6,8],S,"#000",MF,8,2),ax("right",[0,2,4,6,8],d=>S(d/8),"#ff8c00",MF,8,2)
]});
strip({mini:true,top:29,height:30,marks:[
  Plot.text(miniTopHours.map((h,i)=>({h,t:miniTopLabels[i]})),{x:"h",text:"t",frameAnchor:"top",dy:19,fontSize:13})
]});
strip({mini:true,top:601,height:20,marks:[
  Plot.text(miniTopHours.map((h,i)=>({h,t:miniBottomLabels[i]})),{x:"h",text:"t",frameAnchor:"top",dy:9,fontSize:13})
]});

// ---------------- TEXT OVERLAY ----------------
const ov=d3.create("svg").attr("width",910).attr("height",660).style("left","0px").style("top","0px").style("font-family",FONT).style("pointer-events","none");
function T(s,x,y,o={}){const t=ov.append("text").attr("x",x).attr("y",y).attr("fill",o.fill||"#000").attr("font-size",o.size||11).attr("text-anchor",o.anchor||"start").text(s);if(o.weight)t.attr("font-weight",o.weight);return t;}
// header & footer
T("wschód słońca: 07:17 CET",290,12,{fill:NAVY,size:12.3});
T("zachód słońca: 15:26 CET",292,25,{fill:NAVY,size:12.3});
T("21°13'E, 53°49'N",592,12,{fill:NAVY,size:12.3,anchor:"middle"});
T("(x=253,  y=360)",592,25,{fill:NAVY,size:12.3,anchor:"middle"});
T("wysokość (min, środek, max)",903,12,{fill:NAVY,size:12.3,anchor:"end"});
T("154 - 172 - 185 m",818,25,{fill:NAVY,size:12.3,anchor:"middle"});
T("CET",318,53,{size:13,anchor:"middle"});T("CET",872,53,{size:13,anchor:"middle"});
T("UTC",318,617,{size:13,anchor:"middle"});T("UTC",872,617,{size:13,anchor:"middle"});
T("meteo@icm.edu.pl",358,653,{fill:NAVY,size:13.5,anchor:"middle"});
T("© 2007-2024 ICM, Uniwersytet Warszawski",749,653,{fill:NAVY,size:13.5,anchor:"middle"});
T("* powyżej poziomu morza",5,652,{size:9.5,weight:"bold"});
// rotated axis titles [text, x, y, anchor, size]
const sideLabels=[["temperatura",291,96,"middle"],["(°C)",306,96,"middle"],["opad",291,170,"middle"],["(mm/h, kg/m²/h)",306,184,"middle"],["ciśnienie",291,269,"middle"],["(hPa)",306,269,"middle"],["wiatr",291,350,"middle"],["(m/s)",306,356,"middle"],["pion. rozciągł. chm.",291,521,"start",12],["(km)",306,477,"middle"],["zachmurzenie",291,564,"middle"],["(oktanty)",306,564,"middle"],
 ["(°C)",881,96,"middle"],["temperatura",897,96,"middle"],["(%)",881,184,"middle"],["wilgotność wzgl.",897,185,"middle"],["(mm Hg)",881,269,"middle"],["ciśnienie",897,269,"middle"],["(km/h)",881,356,"middle"],["wiatr",897,356,"middle"],["(km)",881,477,"middle"],["widzialność",897,477,"middle"],["(frakcja)",881,564,"middle"],["mgła",897,564,"middle"]];
for(const [s,x,y,a,sz] of sideLabels) ov.append("text").attr("transform",`translate(${x},${y}) rotate(-90)`).attr("text-anchor",a).attr("dominant-baseline","middle").attr("fill",NAVY).attr("font-size",sz||13.2).text(s);
// compasses
for(const cx of [303,890]){T("W",cx-6,420,{fill:NAVY,size:12.5,anchor:"middle"});T("N",cx+3,410,{fill:NAVY,size:11.5,anchor:"middle"});T("E",cx+9,420,{fill:NAVY,size:11.5,anchor:"middle"});T("S",cx+1,430,{fill:NAVY,size:11.5,anchor:"middle"});}
// legend boxes
ov.append("rect").attr("x",11).attr("y",506).attr("width",42).attr("height",11).attr("fill","#87cefa");
ov.append("rect").attr("x",10).attr("y",550).attr("width",41).attr("height",12).attr("fill","#87cefa");
// legend texts [text, x, baseline y, colour, size]
const legendTexts=[["Czas lokalny",6,20,"#000"],["(CET/CEST)",6,31,"#000"],["Temperatura gruntu",6,47,"#b01818"],["max/min",27,57,"#b01818",10.3],["Temperatura:",6,68,"#000"],["punkt środkowy",13,81,"#ff0000"],["max/min",27,91,"#ffc4b4",10.3],["odczuwana",10,103,"#0000ff"],["max/min",27,113,"#a8d8f8",10.3],["Temp. punktu rosy",6,124,"#6a5ad8"],["Opad powyżej skali",6,141,"#ff0000"],["Wilgotność względna",6,155,"#e85020"],["Wystąpienie burzy",6,170,"#000"],["Deszcz:",6,184,"#00a000"],["max",50,184,"#00a000"],["średni",48,194,"#00a000",10.5],["Śnieg:",6,205,"#2030e0"],["max",50,205,"#2030e0",10.5],["średni",48,216,"#2030e0",10.5],["Wystąpienie opadu",6,228,"#ff0000"],["konwekcyjnego",6,241,"#ff0000"],["Ciśnienie",6,267,"#000"],["zredukowane",6,280,"#000"],["do poziomu morza",6,293,"#000"],["Wiatr na 10m:",6,323,"#000"],["poryw powyżej skali",10,338,"#ff0000"],["max porywy wiatru",10,352,"#ff0000"],["prędkość wiatru",10,372,"#1010a0"],["w środku obszaru",10,386,"#1010a0"],["kierunek wiatru",10,413,"#1010a0"],["Wierzchołek chmur",6,433,"#a02020"],["Podstawa chmur*",6,449,"#000"],["o pokryciu",6,460,"#000"],["> 7.9 okt.",12,471,"#000",10.3],["> 6.5 okt.",12,482,"#404040",10.3],["> 4.5 okt.",12,493,"#909090",10.3],["> 2.5 okt.",12,504,"#d0d0d0",10.3],["> 0.1 okt.",12,515,"#ffffff",10.3],["Widzialność",6,531,"#ff8c00"],["Chmury:",6,547,"#000"],["wysokie",12,560,"#ffffff"],["średnie",12,572,"#909090"],["niskie",12,586,"#303030"],["bardzo niskie",12,597,"#000"],["Mgła",6,609,"#ffb000"],["Czas uniwersalny (UTC)",6,627,"#000"]];
for(const [s,x,y,c,sz] of legendTexts) T(s,x,y,{fill:c,size:sz||11});
const leaders=[["#000",[[66,16],[135,16],[156,41]]],["#b01818",[[99,43],[119,43],[150,100]]],["#ff0000",[[88,77],[116,77]]],["#ff0000",[[130,76],[156,100]]],["#0000ff",[[66,99],[116,99]]],["#0000ff",[[130,99],[136,99]]],["#6a5ad8",[[94,120],[136,120]]],["#ff0000",[[101,137],[146,137],[146,146]]],["#e85020",[[110,151],[116,151]]],["#e85020",[[130,151],[145,164]]],["#000",[[97,166],[116,166]]],["#000",[[130,166],[139,172]]],["#00a000",[[72,180],[139,180]]],["#00a000",[[81,190],[136,190]]],["#2030e0",[[70,201],[116,201]]],["#2030e0",[[130,201],[160,172]]],["#2030e0",[[81,212],[137,212],[162,206]]],["#ff0000",[[100,224],[142,224],[146,220]]],["#000",[[52,263],[134,263]]],["#ff0000",[[111,334],[116,334]]],["#ff0000",[[130,333],[138,316]]],["#ff0000",[[104,348],[130,348],[145,339]]],["#1010a0",[[92,368],[135,368]]],["#1010a0",[[86,409],[137,409]]],["#a02020",[[99,429],[134,430],[185,447]]],["#000",[[56,467],[135,467],[192,455]]],["#404040",[[56,478],[143,480]]],["#909090",[[56,489],[133,489],[140,499]]],["#87cefa",[[54,511],[136,511]]],["#ff8c00",[[68,527],[130,527],[172,463]]],["#87cefa",[[52,556],[185,556]]],["#909090",[[53,568],[193,568]]],["#404040",[[45,582],[135,582]]],["#000",[[78,593],[135,593],[143,588]]],["#ffb000",[[31,605],[218,605],[219,590]]],["#000",[[134,623],[148,623],[157,611]]]];
for(const [c,pts] of leaders) ov.append("polyline").attr("points",pts.map(p=>p.join(",")).join(" ")).attr("fill","none").attr("stroke",c).attr("stroke-width",1);
root.appendChild(ov.node());
</script></body></html>
